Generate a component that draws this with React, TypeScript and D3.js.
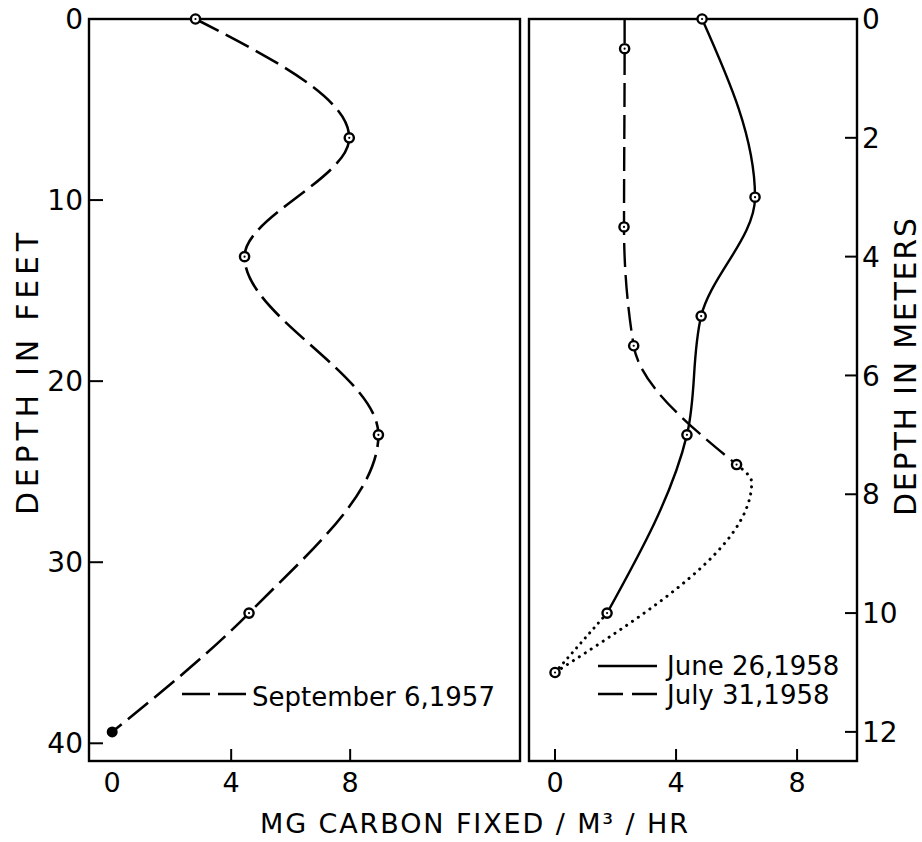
import React from 'react';
import * as d3 from 'd3';

// ---- data ----
// September 6, 1957 (left panel) – depths in metres, carbon in mg C/m3/hr
const sepDepthM = [0, 2, 4, 7, 10, 12];
const sepCarbon = [2.8, 7.97, 4.45, 8.95, 4.6, 0];

// June 26, 1958 (right panel, solid)
const juneDepthM = [0, 3, 5, 7, 10];
const juneCarbon = [4.86, 6.61, 4.83, 4.36, 1.72];
const juneTailDepthM = [10, 11];
const juneTailCarbon = [1.72, 0];

// July 31, 1958 (right panel, dashed)
const julyDepthM = [0, 0.5, 3.5, 5.5, 7.5];
const julyCarbon = [2.3, 2.3, 2.28, 2.6, 6.0];
const julyMarked = [false, true, true, true, true];
const julyTailDepthM = [7.5, 7.8, 11];
const julyTailCarbon = [6.0, 6.5, 0];

// shared bottom sample
const bottomDepthM = [11];
const bottomCarbon = [0];

const feetTicks = [0, 10, 20, 30, 40];
const meterTicks = [0, 2, 4, 6, 8, 10, 12];
const carbonTicks = [0, 4, 8];
const leftLegend = ['September 6,1957'];
const rightLegend = ['June 26,1958', 'July 31,1958'];
const xTitle = 'MG CARBON FIXED / M\u00B3 / HR';
const yLeftTitle = 'DEPTH  IN  FEET';
const yRightTitle = 'DEPTH  IN  METERS';

const FT = 0.3048;
const FONT = "'DejaVu Sans', sans-serif";

type P = [number, number];
const zip = (a: number[], b: number[]): P[] => a.map((v, i) => [b[i], v]);

export default function App() {
  const top = 19, bottom = 761;
  const L = { x0: 89, x1: 520 };
  const R = { x0: 529, x1: 857 };
  const y = d3.scaleLinear().domain([0, 12.49]).range([top, bottom]);
  const xL = d3.scaleLinear().domain([-0.78, 13.71]).range([L.x0, L.x1]);
  const xR = d3.scaleLinear().domain([-0.86, 9.98]).range([R.x0, R.x1]);

  const lineL = d3.line<P>().x(d => xL(d[0])).y(d => y(d[1])).curve(d3.curveMonotoneY);
  const lineR = d3.line<P>().x(d => xR(d[0])).y(d => y(d[1])).curve(d3.curveMonotoneY);
  const lineRlin = d3.line<P>().x(d => xR(d[0])).y(d => y(d[1]));

  const sep = zip(sepDepthM, sepCarbon);
  const june = zip(juneDepthM, juneCarbon);
  const july = zip(julyDepthM, julyCarbon);
  const juneTail = zip(juneTailDepthM, juneTailCarbon);
  const julyTail = zip(julyTailDepthM, julyTailCarbon);
  const bottomPts = zip(bottomDepthM, bottomCarbon);

  const marker = (cx: number, cy: number, key: string, filled = false) =>
    filled ? (
      <circle key={key} cx={cx} cy={cy} r={5.5} fill="#000" />
    ) : (
      <g key={key}>
        <circle cx={cx} cy={cy} r={4.6} fill="#fff" stroke="#000" strokeWidth={2.4} />
        <circle cx={cx} cy={cy} r={1.1} fill="#000" />
      </g>
    );

  const txt = { fontFamily: FONT, fill: '#000' } as const;

  return (
    <svg width={922} height={842} viewBox="0 0 922 842"
      style={{ position: 'absolute', left: 0, top: 0, background: '#fff' }}>
      <rect x={0} y={0} width={922} height={842} fill="#fff" />
      {/* frames */}
      <rect x={L.x0} y={top} width={L.x1 - L.x0} height={bottom - top} fill="none" stroke="#000" strokeWidth={2.4} />
      <rect x={R.x0} y={top} width={R.x1 - R.x0} height={bottom - top} fill="none" stroke="#000" strokeWidth={2.4} />

      {/* left axis (feet) */}
      {feetTicks.map(t => (
        <g key={'ft' + t}>
          {t > 0 && <line x1={L.x0} x2={L.x0 + 14} y1={y(t * FT)} y2={y(t * FT)} stroke="#000" strokeWidth={2} />}
          <text x={83} y={y(t * FT)} dy="0.36em" textAnchor="end" fontSize={28} {...txt}>{t}</text>
        </g>
      ))}
      {/* right axis (metres) */}
      {meterTicks.map(t => (
        <g key={'m' + t}>
          {t > 0 && <line x1={R.x1 - 12} x2={R.x1} y1={y(t)} y2={y(t)} stroke="#000" strokeWidth={2} />}
          <text x={862} y={y(t)} dy="0.36em" textAnchor="start" fontSize={28} {...txt}>{t}</text>
        </g>
      ))}
      {/* bottom ticks */}
      {carbonTicks.map(t => (
        <g key={'cl' + t}>
          {t > 0 && <line x1={xL(t)} x2={xL(t)} y1={bottom - 12} y2={bottom} stroke="#000" strokeWidth={2} />}
          <text x={xL(t)} y={792} textAnchor="middle" fontSize={27} {...txt}>{t}</text>
        </g>
      ))}
      {carbonTicks.map(t => (
        <g key={'cr' + t}>
          <line x1={xR(t)} x2={xR(t)} y1={bottom - 12} y2={bottom} stroke="#000" strokeWidth={2} />
          <text x={xR(t)} y={792} textAnchor="middle" fontSize={27} {...txt}>{t}</text>
        </g>
      ))}

      {/* titles */}
      <text x={474} y={833} textAnchor="middle" fontSize={27} textLength={428} lengthAdjust="spacing" {...txt}>{xTitle}</text>
      <text transform={`translate(38,374) rotate(-90)`} textAnchor="middle" fontSize={30} textLength={282} lengthAdjust="spacing" {...txt}>{yLeftTitle}</text>
      <text transform={`translate(916,367) rotate(-90)`} textAnchor="middle" fontSize={30} textLength={298} lengthAdjust="spacing" {...txt}>{yRightTitle}</text>

      {/* September 1957 */}
      <path d={lineL(sep) || ''} fill="none" stroke="#000" strokeWidth={2.6} strokeDasharray="26 8" />
      {sep.map((d, i) => marker(xL(d[0]), y(d[1]), 's' + i, i === sep.length - 1))}

      {/* June 1958 */}
      <path d={lineR(june) || ''} fill="none" stroke="#000" strokeWidth={2.4} />
      <path d={lineRlin(juneTail) || ''} fill="none" stroke="#000" strokeWidth={3} strokeDasharray="0.1 6.5" strokeLinecap="round" />
      {/* July 1958 */}
      <path d={lineR(july) || ''} fill="none" stroke="#000" strokeWidth={2.4} strokeDasharray="24 8" />
      <path d={lineR(julyTail) || ''} fill="none" stroke="#000" strokeWidth={3} strokeDasharray="0.1 7" strokeLinecap="round" />
      {june.map((d, i) => marker(xR(d[0]), y(d[1]), 'j' + i))}
      {july.map((d, i) => julyMarked[i] ? marker(xR(d[0]), y(d[1]), 'u' + i) : null)}
      {bottomPts.map((d, i) => marker(xR(d[0]), y(d[1]), 'b' + i))}

      {/* legends */}
      <line x1={182} x2={247} y1={694} y2={694} stroke="#000" strokeWidth={2.6} strokeDasharray="28 8" />
      <text x={252} y={706} fontSize={26} {...txt}>{leftLegend[0]}</text>

      <line x1={598} x2={657} y1={666} y2={666} stroke="#000" strokeWidth={2.6} />
      <text x={667} y={675} fontSize={26} {...txt}>{rightLegend[0]}</text>
      <line x1={598} x2={657} y1={694} y2={694} stroke="#000" strokeWidth={2.6} strokeDasharray="25 9" />
      <text x={667} y={704} fontSize={26} {...txt}>{rightLegend[1]}</text>
    </svg>
  );
}
